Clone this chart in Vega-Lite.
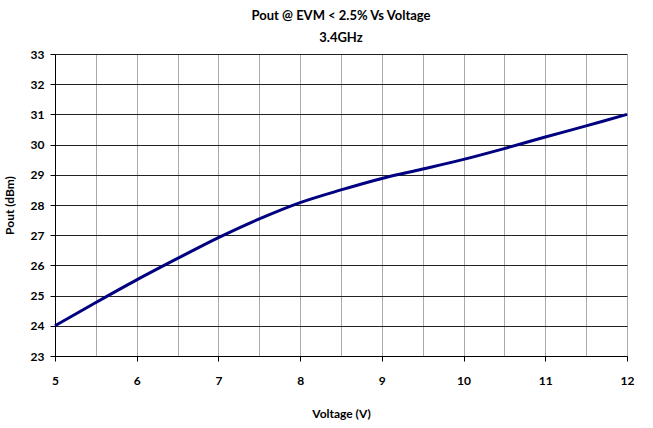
{
  "$schema": "https://vega.github.io/schema/vega-lite/v6.json",
  "autosize": "none",
  "width": 572,
  "height": 302,
  "padding": {"left": 55, "top": 54, "right": 26, "bottom": 72},
  "background": "white",
  "title": {
    "text": ["Pout @ EVM < 2.5% Vs Voltage", "3.4GHz"],
    "font": "Lato",
    "fontSize": 13,
    "fontWeight": "bold",
    "color": "#000",
    "anchor": "middle",
    "offset": 3,
    "lineHeight": 22
  },
  "config": {
    "view": {"stroke": null},
    "axis": {
      "labelFont": "Lato",
      "labelFontSize": 12,
      "labelFontWeight": "bold",
      "labelColor": "#000",
      "titleFont": "Lato",
      "titleFontSize": 12,
      "titleFontWeight": "bold",
      "titleColor": "#000",
      "domainColor": "#000",
      "tickColor": "#000",
      "tickSize": 5,
      "gridOpacity": 1
    }
  },
  "data": {
    "values": [
      {"v": 5.0, "p": 24.0},
      {"v": 5.5, "p": 24.77},
      {"v": 6.0, "p": 25.52},
      {"v": 6.5, "p": 26.23},
      {"v": 7.0, "p": 26.92},
      {"v": 7.5, "p": 27.54},
      {"v": 8.0, "p": 28.08},
      {"v": 8.5, "p": 28.5},
      {"v": 9.0, "p": 28.88},
      {"v": 9.5, "p": 29.19},
      {"v": 10.0, "p": 29.51},
      {"v": 10.5, "p": 29.87},
      {"v": 11.0, "p": 30.25},
      {"v": 11.5, "p": 30.62},
      {"v": 12.0, "p": 31.0}
    ]
  },
  "mark": {"type": "line", "color": "#000080", "strokeWidth": 3, "interpolate": "catmull-rom"},
  "encoding": {
    "x": {
      "field": "v",
      "type": "quantitative",
      "scale": {"domain": [5, 12], "nice": false, "zero": false},
      "axis": {
        "title": "Voltage (V)",
        "values": [5, 5.5, 6, 6.5, 7, 7.5, 8, 8.5, 9, 9.5, 10, 10.5, 11, 11.5, 12],
        "labelExpr": "datum.value % 1 === 0 ? toString(datum.value) : ''",
        "tickOpacity": {"condition": {"test": "datum.value % 1 === 0", "value": 1}, "value": 0},
        "grid": true,
        "gridColor": "#aaaaaa",
        "labelPadding": 14,
        "titlePadding": 22,
        "labelFlush": false
      }
    },
    "y": {
      "field": "p",
      "type": "quantitative",
      "scale": {"domain": [23, 33], "nice": false, "zero": false},
      "axis": {
        "title": "Pout (dBm)",
        "values": [23, 24, 25, 26, 27, 28, 29, 30, 31, 32, 33],
        "grid": true,
        "gridColor": "#222222",
        "labelPadding": 6,
        "titlePadding": 14
      }
    }
  }
}
